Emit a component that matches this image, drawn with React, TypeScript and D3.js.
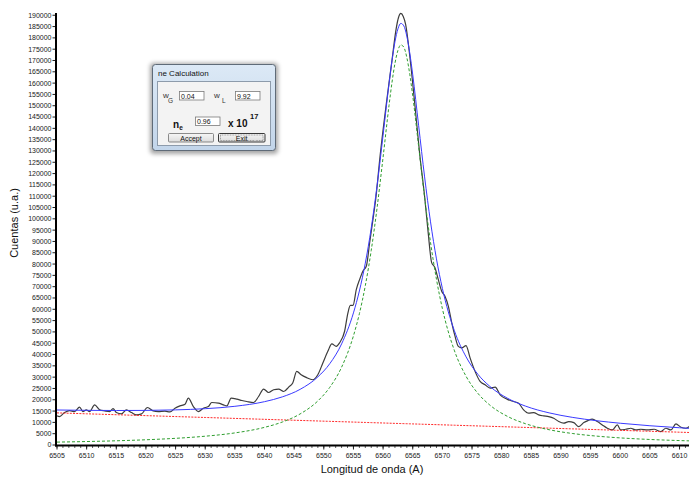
import React from 'react';
import * as d3 from 'd3';

// ---------- data ----------
const xTickValues = [6505, 6510, 6515, 6520, 6525, 6530, 6535, 6540, 6545, 6550, 6555, 6560, 6565, 6570, 6575, 6580, 6585, 6590, 6595, 6600, 6605, 6610];
const yTickValues = [0, 5000, 10000, 15000, 20000, 25000, 30000, 35000, 40000, 45000, 50000, 55000, 60000, 65000, 70000, 75000, 80000, 85000, 90000, 95000, 100000, 105000, 110000, 115000, 120000, 125000, 130000, 135000, 140000, 145000, 150000, 155000, 160000, 165000, 170000, 175000, 180000, 185000, 190000];

// fitted curves, sampled along the wavelength axis
const fitWavelength = [6505, 6510, 6515, 6520, 6525, 6530, 6535, 6540, 6543, 6546, 6549, 6551, 6553, 6555, 6556, 6557, 6558, 6559, 6560, 6561, 6561.5, 6562, 6562.5, 6563, 6563.5, 6564, 6564.5, 6565, 6566, 6567, 6568, 6569, 6570, 6572, 6574, 6576, 6578, 6581, 6584, 6588, 6592, 6596, 6600, 6605, 6610, 6612];
// green dashed: profile without baseline
const profileCounts = [1281, 1531, 1862, 2314, 2950, 3887, 5347, 7801, 10160, 13732, 19493, 25468, 34389, 48268, 58052, 70434, 86047, 105169, 127274, 150127, 160300, 168700, 174448, 176930, 175857, 171362, 163900, 154356, 131902, 109374, 89575, 73292, 60307, 41943, 30360, 22795, 17656, 12624, 9435, 6756, 5064, 3933, 3141, 2446, 1958, 1802];
// red dashed: baseline
const baselineCounts = [14200, 13794, 13387, 12981, 12574, 12168, 11761, 11355, 11111, 10867, 10623, 10460, 10298, 10135, 10054, 9972, 9891, 9810, 9729, 9647, 9606, 9566, 9525, 9485, 9444, 9403, 9362, 9322, 9241, 9160, 9078, 8997, 8916, 8753, 8590, 8428, 8265, 8021, 7777, 7452, 7127, 6802, 6476, 6070, 5663, 5500];
// blue: total fit
const totalFitCounts = [15480, 15325, 15249, 15295, 15524, 16055, 17108, 19156, 21271, 24599, 30116, 35928, 44687, 58403, 68106, 80406, 95938, 114979, 137003, 159774, 169906, 178266, 183973, 186415, 185301, 180765, 173262, 163678, 141143, 118534, 98653, 82289, 69223, 50696, 38950, 31223, 25921, 20645, 17212, 14208, 12191, 10735, 9617, 8516, 7621, 7302];

// black: measured spectrum
const measuredWavelength = [6505.0, 6505.42, 6506.27, 6507.12, 6507.96, 6508.81, 6509.37, 6509.94, 6510.5, 6511.35, 6512.2, 6513.04, 6513.89, 6514.45, 6515.02, 6515.87, 6516.71, 6517.56, 6518.41, 6519.26, 6520.27, 6521.22, 6522.07, 6523.2, 6524.05, 6524.9, 6525.74, 6526.59, 6527.15, 6528.0, 6528.84, 6529.69, 6530.53, 6531.1, 6532.23, 6533.07, 6533.65, 6534.38, 6535.34, 6536.19, 6537.03, 6538.15, 6539.0, 6539.85, 6540.69, 6541.54, 6542.39, 6543.23, 6544.08, 6544.76, 6545.43, 6546.18, 6547.02, 6548.14, 6548.99, 6549.84, 6550.68, 6551.36, 6552.1, 6552.66, 6553.51, 6554.07, 6554.48, 6554.92, 6555.49, 6556.05, 6556.61, 6557.18, 6557.74, 6558.3, 6558.76, 6559.5, 6560.5, 6561.5, 6562.2, 6562.6, 6563.0, 6563.4, 6563.8, 6564.5, 6565.3, 6566.2, 6567.0, 6567.6, 6568.19, 6568.75, 6569.3, 6569.88, 6570.44, 6571.0, 6571.58, 6572.13, 6572.69, 6573.27, 6573.99, 6574.67, 6575.51, 6576.36, 6577.2, 6578.05, 6578.9, 6579.75, 6580.89, 6582.0, 6582.85, 6583.7, 6584.55, 6585.4, 6586.24, 6587.09, 6587.93, 6588.78, 6589.63, 6590.47, 6591.32, 6592.17, 6593.01, 6593.86, 6594.54, 6595.28, 6596.13, 6596.97, 6597.82, 6598.67, 6599.51, 6600.07, 6600.92, 6601.77, 6602.61, 6603.46, 6604.59, 6605.71, 6606.85, 6607.69, 6608.54, 6609.39, 6610.24, 6611.08, 6611.76];
const measuredCounts = [12870, 12580, 14340, 15230, 14790, 16730, 14790, 15540, 14790, 17760, 15540, 15090, 14790, 16110, 14340, 13760, 15540, 14340, 13320, 13760, 16570, 15090, 14790, 14940, 14650, 16280, 17310, 18060, 20730, 17000, 14790, 16280, 17000, 18780, 18510, 17760, 17310, 20730, 20290, 19670, 19220, 18780, 21440, 24720, 23220, 24410, 24720, 23660, 25610, 27390, 32540, 31070, 29880, 28850, 31070, 36270, 41420, 44700, 43640, 45140, 50290, 58460, 61700, 61700, 68800, 73240, 76930, 79150, 89530, 99880, 108760, 128000, 150000, 170000, 184000, 189000, 190800, 189500, 186000, 172000, 152000, 128000, 110000, 94000, 80660, 78400, 73200, 68000, 65800, 61400, 54000, 48100, 43600, 42900, 43950, 38500, 32550, 28100, 26640, 25170, 25600, 22200, 20270, 19220, 18510, 15540, 14070, 14340, 13320, 12870, 12580, 11840, 10360, 9630, 10360, 9900, 8140, 9900, 10790, 11400, 10360, 8880, 7400, 6660, 8880, 6660, 6960, 7400, 6660, 6960, 6660, 6960, 5920, 7400, 6660, 9320, 7840, 7400, 8440];

const xLabel = 'Longitud de onda (A)';
const yLabel = 'Cuentas (u.a.)';

const FONT = '"Liberation Sans", Arial, sans-serif';

function Dialog() {
  return (
    <g fontFamily={FONT}>
      <defs>
        <filter id="dlgShadow" x="-20%" y="-20%" width="140%" height="140%">
          <feGaussianBlur stdDeviation="2" />
        </filter>
        <linearGradient id="frameGrad" x1="0" y1="0" x2="0" y2="1">
          <stop offset="0" stopColor="#dce9f6" />
          <stop offset="1" stopColor="#c2d5ea" />
        </linearGradient>
        <linearGradient id="btnGrad" x1="0" y1="0" x2="0" y2="1">
          <stop offset="0" stopColor="#f6f6f6" />
          <stop offset="1" stopColor="#dcdcdc" />
        </linearGradient>
      </defs>
      <rect x={150} y={63} width={128} height={91} rx={4} fill="rgba(0,0,0,0.35)" filter="url(#dlgShadow)" />
      <rect x={152.5} y={64.5} width={123} height={86} rx={3} fill="url(#frameGrad)" stroke="#5f6b78" strokeWidth={1} />
      <text x={158} y={76} fontSize={8} fill="#111">ne Calculation</text>
      <rect x={157.5} y={81.5} width={113} height={64} fill="#f3f3f3" stroke="#8d9bab" strokeWidth={1} />
      {/* w_G */}
      <text x={163} y={98} fontSize={8} fill="#333">w</text>
      <text x={168} y={103} fontSize={6.5} fill="#333">G</text>
      <rect x={179.5} y={91.5} width={24.5} height={8.5} fill="#fff" stroke="#7a7a7a" strokeWidth={0.8} />
      <text x={181} y={98.5} fontSize={7} fill="#111">0.04</text>
      {/* w_L */}
      <text x={214} y={98} fontSize={8} fill="#333">w</text>
      <text x={222} y={103} fontSize={6.5} fill="#333">L</text>
      <rect x={235.5} y={91.5} width={24.5} height={8.5} fill="#fff" stroke="#7a7a7a" strokeWidth={0.8} />
      <text x={237} y={98.5} fontSize={7} fill="#111">9.92</text>
      {/* n_e */}
      <text x={173} y={127.5} fontSize={10} fontWeight="bold" fill="#111">n</text>
      <text x={179.3} y={130} fontSize={6.5} fontWeight="bold" fill="#111">e</text>
      <rect x={195.5} y={117} width={24.5} height={8.5} fill="#fff" stroke="#7a7a7a" strokeWidth={0.8} />
      <text x={197} y={124} fontSize={7} fill="#111">0.96</text>
      <text x={228} y={127} fontSize={10} fontWeight="bold" fill="#111">x 10</text>
      <text x={250} y={119} fontSize={7.5} fontWeight="bold" fill="#111">17</text>
      {/* buttons */}
      <rect x={168.5} y={133.5} width={45} height={8.5} rx={1} fill="url(#btnGrad)" stroke="#707070" strokeWidth={0.8} />
      <text x={191} y={140.5} fontSize={7} textAnchor="middle" fill="#111">Accept</text>
      <rect x={218.5} y={133.5} width={46.5} height={8.5} rx={1} fill="url(#btnGrad)" stroke="#3a3a3a" strokeWidth={1} />
      <rect x={220.5} y={135} width={42.5} height={5.5} fill="none" stroke="#555" strokeWidth={0.6} strokeDasharray="0.8,0.8" />
      <text x={241.7} y={140.5} fontSize={7} textAnchor="middle" fill="#111">Exit</text>
    </g>
  );
}

export default function App() {
  const width = 689;
  const height = 477;
  const x = d3.scaleLinear().domain([6505, 6612]).range([57, 691.4]);
  const y = d3.scaleLinear().domain([0, 191000]).range([445, 13]);

  const line = d3
    .line<[number, number]>()
    .x((d) => x(d[0]))
    .y((d) => y(d[1]))
    .curve(d3.curveMonotoneX);

  const measured = measuredWavelength.map((w, i) => [w, measuredCounts[i]] as [number, number]);
  const total = fitWavelength.map((w, i) => [w, totalFitCounts[i]] as [number, number]);
  const profile = fitWavelength.map((w, i) => [w, profileCounts[i]] as [number, number]);
  const baseline = fitWavelength.map((w, i) => [w, baselineCounts[i]] as [number, number]);

  const minorTicks = d3.range(6505, 6612.01, 1);

  return (
    <div style={{ position: 'absolute', left: 0, top: 0 }}>
      <svg width={width} height={height} style={{ display: 'block', background: '#fff' }}>
        <defs>
          <clipPath id="plotClip">
            <rect x={57} y={0} width={632} height={445} />
          </clipPath>
        </defs>
        <rect x={0} y={0} width={width} height={height} fill="#fff" />

        <g clipPath="url(#plotClip)" fill="none">
          <path d={line(measured) || ''} stroke="#3c3c3c" strokeWidth={1.2} />
          <path d={line(total) || ''} stroke="#3a3aff" strokeWidth={1} />
          <path d={line(baseline) || ''} stroke="#ff2a2a" strokeWidth={1} strokeDasharray="2,1.2" />
          <path d={line(profile) || ''} stroke="#2f9e2f" strokeWidth={1} strokeDasharray="3,2" />
        </g>

        {/* y axis */}
        <g fontFamily={FONT} fontSize={7} fill="#222">
          {yTickValues.map((v) => (
            <g key={'y' + v}>
              <line x1={52.5} x2={55} y1={y(v)} y2={y(v)} stroke="#222" strokeWidth={1} />
              <text x={51.5} y={y(v)} dy="0.35em" textAnchor="end">
                {v}
              </text>
            </g>
          ))}
        </g>
        <line x1={56} x2={56} y1={13} y2={446.5} stroke="#000" strokeWidth={2} />

        {/* x axis */}
        <g fontFamily={FONT} fontSize={7} fill="#222">
          {minorTicks.map((v) => (
            <line key={'m' + v} x1={x(v)} x2={x(v)} y1={446} y2={448} stroke="#333" strokeWidth={0.8} />
          ))}
          {xTickValues.map((v) => (
            <g key={'x' + v}>
              <line x1={x(v)} x2={x(v)} y1={446} y2={449.5} stroke="#222" strokeWidth={1} />
              <text x={x(v)} y={457.5} textAnchor="middle">
                {v}
              </text>
            </g>
          ))}
        </g>
        <line x1={55} x2={689} y1={445.5} y2={445.5} stroke="#000" strokeWidth={2} />

        {/* titles */}
        <text x={372} y={473} fontFamily={FONT} fontSize={11} textAnchor="middle" fill="#111">
          {xLabel}
        </text>
        <text
          transform="translate(18,223) rotate(-90)"
          fontFamily={FONT}
          fontSize={11}
          textAnchor="middle"
          fill="#111"
        >
          {yLabel}
        </text>

        <Dialog />
      </svg>
    </div>
  );
}
